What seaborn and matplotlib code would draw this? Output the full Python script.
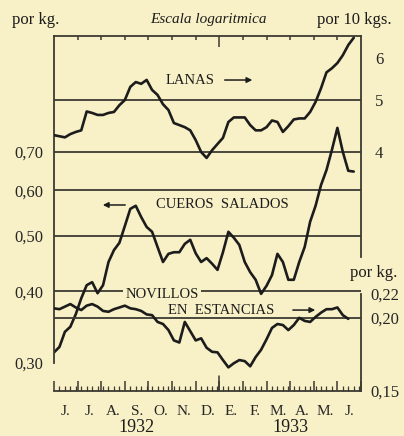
"""Precios semanales de lanas, cueros salados y novillos, junio 1932 - junio 1933."""

import matplotlib

matplotlib.use("Agg")
import matplotlib.pyplot as plt
import numpy as np
import pandas as pd
import seaborn as sns
from matplotlib.ticker import FixedLocator, NullLocator

MONTHS = ["J.", "J.", "A.", "S.", "O.", "N.", "D.", "E.", "F.", "M.", "A.", "M.", "J."]
YEARS = ["1932", "1933"]

# valores semanales (escala logaritmica)
LANAS = [4.30, 4.28, 4.26, 4.32, 4.36, 4.39, 4.76, 4.73, 4.69, 4.69, 4.73, 4.75,
         4.89, 5.00, 5.29, 5.40, 5.36, 5.45, 5.22, 5.11, 4.91, 4.79, 4.53, 4.49,
         4.45, 4.39, 4.21, 4.00, 3.90, 4.03, 4.14, 4.25, 4.55, 4.64, 4.64, 4.64,
         4.49, 4.39, 4.39, 4.45, 4.58, 4.55, 4.36, 4.47, 4.60, 4.62, 4.62, 4.75,
         4.96, 5.26, 5.63, 5.73, 5.86, 6.06, 6.33, 6.53]
CUEROS = [0.313, 0.320, 0.340, 0.347, 0.365, 0.389, 0.410, 0.415, 0.397, 0.410,
          0.450, 0.472, 0.486, 0.520, 0.557, 0.564, 0.539, 0.518, 0.508, 0.478,
          0.450, 0.465, 0.468, 0.468, 0.484, 0.492, 0.466, 0.450, 0.457, 0.447,
          0.436, 0.468, 0.508, 0.496, 0.482, 0.450, 0.432, 0.419, 0.396, 0.409,
          0.427, 0.465, 0.450, 0.419, 0.419, 0.450, 0.478, 0.529, 0.564, 0.613,
          0.651, 0.706, 0.771, 0.700, 0.649, 0.647]
NOVILLOS = [0.2076, 0.2069, 0.2090, 0.2111, 0.2083, 0.2062, 0.2098, 0.2111, 0.2090,
            0.2055, 0.2048, 0.2069, 0.2083, 0.2098, 0.2076, 0.2069, 0.2055, 0.2027,
            0.2021, 0.1968, 0.1952, 0.1906, 0.1830, 0.1815, 0.1968, 0.1898, 0.1830,
            0.1845, 0.1778, 0.1750, 0.1746, 0.1694, 0.1646, 0.1673, 0.1694, 0.1687,
            0.1653, 0.1714, 0.1764, 0.1838, 0.1922, 0.1952, 0.1944, 0.1906, 0.1944,
            0.2000, 0.1976, 0.1968, 0.2007, 0.2041, 0.2069, 0.2069, 0.2083, 0.2021,
            0.1992]

CUEROS_TICKS = [0.30, 0.40, 0.50, 0.60, 0.70]
LANAS_TICKS = [4, 5, 6]
NOVILLOS_TICKS = [0.15, 0.20, 0.22]

BG = "#f8f0c6"
INK = "#1c1c1c"
RULE = "#3c3a32"

sns.set_theme(style="white")
plt.rcParams["font.family"] = ["Liberation Serif", "DejaVu Serif"]
plt.rcParams["axes.linewidth"] = 1.3
plt.rcParams["text.color"] = INK


def weekly(values: list[float]) -> pd.DataFrame:
    mes = np.arange(len(values)) * 12 / 52
    return pd.DataFrame({"mes": mes, "valor": values})


def fmt(v: float) -> str:
    return f"{v:.2f}".replace(".", ",")


fig = plt.figure(figsize=(4.04, 4.36), dpi=100, facecolor=BG)
ax = fig.add_axes([54 / 404, 1 - 391 / 436, 307 / 404, 355 / 436])
ax.set_facecolor("none")
ax_l = ax.twinx()
ax_n = ax.twinx()

for a, lim in ((ax, (0.2681, 1.115)), (ax_l, (1.435, 6.58)), (ax_n, (0.15, 0.6056))):
    a.set_yscale("log")
    a.set_ylim(*lim)
    a.set_facecolor("none")
    a.yaxis.set_minor_locator(NullLocator())
    for s in a.spines.values():
        s.set_visible(False)
        s.set_color(RULE)

# rayas horizontales
for v in [0.40, 0.50, 0.60, 0.70]:
    ax.axhline(v, color=RULE, lw=1.3, zorder=1)
ax_l.axhline(5, color=RULE, lw=1.3, zorder=1)
ax_n.axhline(0.20, color=RULE, lw=1.3, zorder=1)

sns.lineplot(data=weekly(LANAS), x="mes", y="valor", ax=ax_l, color=INK, lw=1.9)
sns.lineplot(data=weekly(CUEROS), x="mes", y="valor", ax=ax, color=INK, lw=1.9)
sns.lineplot(data=weekly(NOVILLOS), x="mes", y="valor", ax=ax_n, color=INK, lw=1.9)

for a in (ax, ax_l, ax_n):
    a.set_xlim(0, 13)
    a.set_xlabel("")
    a.set_ylabel("")

# marco
ax.spines["left"].set_visible(True)
ax.spines["left"].set_bounds(0.30, 1.115)
ax.spines["bottom"].set_visible(True)
ax_l.spines["right"].set_visible(True)
ax_l.spines["right"].set_bounds(2.55, 6.58)
ax_n.spines["right"].set_visible(True)
ax_n.spines["right"].set_bounds(0.15, 0.22)

# escala izquierda: cueros
ax.set_yticks(CUEROS_TICKS, labels=[fmt(v) for v in CUEROS_TICKS])
ax.tick_params(axis="y", which="major", left=True, length=0, pad=8, labelsize=12)

# escala derecha: lanas y novillos
ax_l.set_yticks(LANAS_TICKS, labels=[str(v) for v in LANAS_TICKS])
ax_l.tick_params(axis="y", right=True, length=0, pad=10, labelsize=12)
ax_n.set_yticks(NOVILLOS_TICKS, labels=[fmt(v) for v in NOVILLOS_TICKS])
ax_n.tick_params(axis="y", right=True, length=0, pad=7, labelsize=12)

# eje de tiempo: meses y semanas
ax.xaxis.set_major_locator(FixedLocator(np.arange(14)))
ax.xaxis.set_minor_locator(FixedLocator(np.arange(57) * 12 / 52))
ax.set_xticklabels([])
ax.tick_params(axis="x", which="major", bottom=True, direction="in", length=7,
               width=1.1, color=RULE)
ax.tick_params(axis="x", which="minor", bottom=True, direction="in", length=3.5,
               width=0.9, color=RULE)
ax.axvline(7, ymin=0, ymax=15 / 355, color=RULE, lw=1.1)

top = ax.secondary_xaxis("top")
top.spines["top"].set_color(RULE)
top.spines["top"].set_linewidth(1.3)
top.xaxis.set_major_locator(FixedLocator([7]))
top.xaxis.set_minor_locator(FixedLocator(np.arange(1, 13)))
top.set_xticklabels([])
top.tick_params(which="major", direction="in", length=8, width=1.1, color=RULE)
top.tick_params(which="minor", direction="in", length=3, width=1.1, color=RULE)

lab = ax.secondary_xaxis("bottom")
lab.spines["bottom"].set_visible(False)
lab.set_xticks(np.arange(13) + 0.5, labels=MONTHS)
lab.tick_params(length=0, pad=10, labelsize=11)
for x, year in zip([3.5, 10], YEARS):
    ax.text(x, -0.103, year, transform=ax.get_xaxis_transform(), ha="center",
            va="center", fontsize=13)

# rotulos
ax.text(0.443, 0.876, "LANAS", transform=ax.transAxes, ha="center", va="center",
        fontsize=10.5)
ax.annotate("", xy=(0.655, 0.876), xytext=(0.547, 0.876), xycoords="axes fraction",
            arrowprops=dict(arrowstyle="-|>", color=INK, lw=1.1, mutation_scale=8))
ax.text(0.547, 0.524, "CUEROS  SALADOS", transform=ax.transAxes, ha="center",
        va="center", fontsize=10.5)
ax.annotate("", xy=(0.150, 0.524), xytext=(0.241, 0.524), xycoords="axes fraction",
            arrowprops=dict(arrowstyle="-|>", color=INK, lw=1.1, mutation_scale=8))
ax.text(0.352, 0.273, "NOVILLOS", transform=ax.transAxes, ha="center", va="center",
        fontsize=10.5, zorder=5,
        bbox=dict(boxstyle="square,pad=0.15", fc=BG, ec="none"))
ax.text(0.544, 0.228, "EN  ESTANCIAS", transform=ax.transAxes, ha="center",
        va="center", fontsize=10.5)
ax.annotate("", xy=(0.860, 0.228), xytext=(0.769, 0.228), xycoords="axes fraction",
            arrowprops=dict(arrowstyle="-|>", color=INK, lw=1.1, mutation_scale=8))

fig.text(12 / 404, 1 - 20 / 436, "por kg.", ha="left", va="center", fontsize=12)
fig.text(208 / 404, 1 - 20 / 436, "Escala logaritmica", ha="center", va="center",
         fontsize=11, style="italic")
fig.text(317 / 404, 1 - 20 / 436, "por 10 kgs.", ha="left", va="center", fontsize=12)
fig.text(350 / 404, 1 - 273 / 436, "por kg.", ha="left", va="center", fontsize=12)

fig.savefig("out.png", dpi=100, facecolor=BG)
